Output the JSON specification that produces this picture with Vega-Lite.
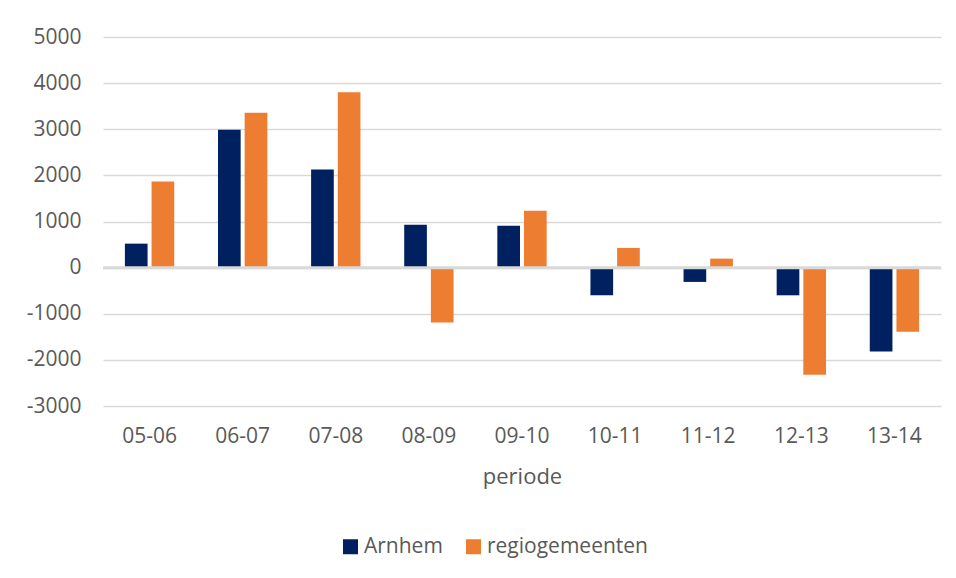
{
  "$schema": "https://vega.github.io/schema/vega-lite/v6.json",
  "autosize": "none",
  "width": 838,
  "height": 369,
  "padding": {"left": 103, "top": 37, "right": 15, "bottom": 172},
  "background": "#FFFFFF",
  "config": {
    "view": {"stroke": null},
    "font": "Open Sans",
    "axis": {"labelColor": "#595959", "titleColor": "#595959", "labelFont": "Open Sans", "titleFont": "Open Sans"},
    "legend": {"labelColor": "#595959", "labelFont": "Open Sans"}
  },
  "data": {
    "values": [
      {"periode": "05-06", "reeks": "Arnhem", "waarde": 520},
      {"periode": "05-06", "reeks": "regiogemeenten", "waarde": 1865},
      {"periode": "06-07", "reeks": "Arnhem", "waarde": 2990},
      {"periode": "06-07", "reeks": "regiogemeenten", "waarde": 3360},
      {"periode": "07-08", "reeks": "Arnhem", "waarde": 2125},
      {"periode": "07-08", "reeks": "regiogemeenten", "waarde": 3800},
      {"periode": "08-09", "reeks": "Arnhem", "waarde": 930},
      {"periode": "08-09", "reeks": "regiogemeenten", "waarde": -1190},
      {"periode": "09-10", "reeks": "Arnhem", "waarde": 910},
      {"periode": "09-10", "reeks": "regiogemeenten", "waarde": 1235},
      {"periode": "10-11", "reeks": "Arnhem", "waarde": -600},
      {"periode": "10-11", "reeks": "regiogemeenten", "waarde": 427},
      {"periode": "11-12", "reeks": "Arnhem", "waarde": -310},
      {"periode": "11-12", "reeks": "regiogemeenten", "waarde": 195},
      {"periode": "12-13", "reeks": "Arnhem", "waarde": -600},
      {"periode": "12-13", "reeks": "regiogemeenten", "waarde": -2320},
      {"periode": "13-14", "reeks": "Arnhem", "waarde": -1820},
      {"periode": "13-14", "reeks": "regiogemeenten", "waarde": -1390}
    ]
  },
  "layer": [
    {
      "mark": {"type": "bar"},
      "encoding": {
        "x": {
          "field": "periode", "type": "nominal",
          "scale": {"paddingInner": 0.47, "paddingOuter": 0.235},
          "axis": {"title": "periode", "labelAngle": 0, "labelFontSize": 21, "titleFontSize": 22, "titleFontWeight": "normal", "domain": false, "ticks": false, "labelPadding": 19, "titlePadding": 20, "grid": false}
        },
        "xOffset": {"field": "reeks", "type": "nominal", "scale": {"paddingInner": 0.15}},
        "y": {
          "field": "waarde", "type": "quantitative",
          "scale": {"domain": [-3000, 5000], "nice": false},
          "axis": {"title": null, "values": [-3000, -2000, -1000, 0, 1000, 2000, 3000, 4000, 5000], "labelExpr": "'' + datum.value", "labelFontSize": 21, "domain": false, "ticks": false, "tickSize": 0, "labelPadding": 22, "gridColor": "#D9D9D9", "gridWidth": 1.5}
        },
        "color": {
          "field": "reeks", "type": "nominal",
          "scale": {"domain": ["Arnhem", "regiogemeenten"], "range": ["#002060", "#ED7D31"]},
          "legend": {"title": null, "orient": "none", "legendX": 237, "legendY": 499, "direction": "horizontal", "symbolType": "square", "symbolSize": 225, "symbolStrokeWidth": 0, "labelFontSize": 21, "labelLimit": 400, "columnPadding": 20, "labelOffset": 3}
        }
      }
    },
    {
      "data": {"values": [{"nul": 0}]},
      "mark": {"type": "rule", "color": "#D9D9D9", "strokeWidth": 3},
      "encoding": {"y": {"field": "nul", "type": "quantitative"}}
    }
  ]
}
